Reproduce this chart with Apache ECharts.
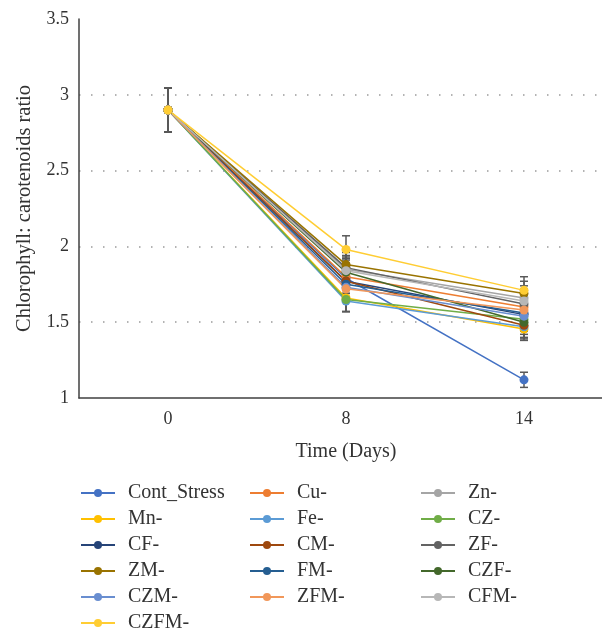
<!DOCTYPE html>
<html>
<head>
<meta charset="utf-8">
<script src="https://cdn.jsdelivr.net/npm/echarts@6/dist/echarts.min.js"></script>
<style>
  html, body { margin: 0; padding: 0; background: #fff; }
  #chart { width: 602px; height: 637px; }
</style>
</head>
<body>
<div id="chart"></div>
<script>
// categories on the x axis
const days = ['0', '8', '14']

// series, in the order of the original legend
const seriesNames = ['Cont_Stress', 'Cu-', 'Zn-', 'Mn-', 'Fe-', 'CZ-', 'CF-', 'CM-',
  'ZF-', 'ZM-', 'FM-', 'CZF-', 'CZM-', 'ZFM-', 'CFM-', 'CZFM-']
const seriesColors = ['#4472C4', '#ED7D31', '#A5A5A5', '#FFC000', '#5B9BD5', '#70AD47',
  '#264478', '#9E480E', '#636363', '#997300', '#255E91', '#43682B', '#698ED0',
  '#F1975A', '#B7B7B7', '#FFCD33']

// ratio values per day, one entry per series
const day0Values = [2.9, 2.9, 2.9, 2.9, 2.9, 2.9, 2.9, 2.9, 2.9, 2.9, 2.9, 2.9, 2.9, 2.9, 2.9, 2.9]
const day8Values = [1.79, 1.80, 1.85, 1.66, 1.64, 1.65, 1.77, 1.77, 1.86, 1.88, 1.75, 1.83, 1.73, 1.72, 1.84, 1.98]
const day14Values = [1.12, 1.60, 1.66, 1.455, 1.47, 1.52, 1.55, 1.48, 1.62, 1.69, 1.56, 1.50, 1.54, 1.58, 1.64, 1.71]

// error bar half-heights per day
const day0Err = [0.145, 0.145, 0.145, 0.145, 0.145, 0.145, 0.145, 0.145, 0.145, 0.145, 0.145, 0.145, 0.145, 0.145, 0.145, 0.145]
const day8Err = [0.08, 0.08, 0.08, 0.09, 0.07, 0.08, 0.08, 0.08, 0.08, 0.08, 0.08, 0.08, 0.08, 0.08, 0.08, 0.09]
const day14Err = [0.05, 0.08, 0.08, 0.075, 0.08, 0.08, 0.08, 0.08, 0.08, 0.08, 0.08, 0.08, 0.08, 0.08, 0.08, 0.09]

const yTicks = [1, 3.5, 0.5] // min, max, interval

const legendCols = [
  ['Cont_Stress', 'Mn-', 'CF-', 'ZM-', 'CZM-', 'CZFM-'],
  ['Cu-', 'Fe-', 'CM-', 'FM-', 'ZFM-'],
  ['Zn-', 'CZ-', 'ZF-', 'CZF-', 'CFM-']
]

const font = '"Liberation Serif", "DejaVu Serif", serif'
const chart = echarts.init(document.getElementById('chart'))

const allValues = [day0Values, day8Values, day14Values]
const allErr = [day0Err, day8Err, day14Err]

// error bar points: [category index, low, high]
const errData = []
seriesNames.forEach((_, s) => {
  allValues.forEach((vals, d) => {
    errData.push([d, vals[s] - allErr[d][s], vals[s] + allErr[d][s]])
  })
})

const lineSeries = seriesNames.map((name, s) => ({
  name,
  type: 'line',
  data: allValues.map((vals) => vals[s]),
  symbol: 'circle',
  symbolSize: 9,
  color: seriesColors[s],
  lineStyle: { width: 1.5 },
  z: 3
}))

const errSeries = {
  type: 'custom',
  data: errData,
  z: 2,
  silent: true,
  renderItem: (params, api) => {
    const x = api.value(0)
    const lo = api.coord([x, api.value(1)])
    const hi = api.coord([x, api.value(2)])
    const cap = 4
    const style = { stroke: '#595959', lineWidth: 1.5 }
    return {
      type: 'group',
      children: [
        { type: 'line', shape: { x1: lo[0], y1: lo[1], x2: hi[0], y2: hi[1] }, style },
        { type: 'line', shape: { x1: hi[0] - cap, y1: hi[1], x2: hi[0] + cap, y2: hi[1] }, style },
        { type: 'line', shape: { x1: lo[0] - cap, y1: lo[1], x2: lo[0] + cap, y2: lo[1] }, style }
      ]
    }
  }
}

const legendLefts = [80, 249, 420]

const option = {
  animation: false,
  textStyle: { fontFamily: font },
  grid: {
    left: 79,
    right: -11,
    top: 19,
    bottom: 239,
    containLabel: false,
    outerBoundsMode: 'none'
  },
  legend: legendCols.map((col, i) => ({
    data: col,
    orient: 'vertical',
    left: legendLefts[i],
    top: 483,
    padding: 0,
    itemWidth: 34,
    itemHeight: 10,
    itemGap: 6,
    textStyle: { fontFamily: font, fontSize: 20, lineHeight: 20, color: '#333', padding: [0, 0, 0, 8] }
  })),
  xAxis: {
    type: 'category',
    data: days,
    boundaryGap: true,
    name: 'Time (Days)',
    nameLocation: 'middle',
    nameGap: 44,
    nameTextStyle: { fontFamily: font, fontSize: 20, color: '#333' },
    axisLine: { lineStyle: { color: '#404040', width: 1.5 } },
    axisTick: { show: false },
    axisLabel: { fontFamily: font, fontSize: 18, color: '#333', margin: 12 },
    splitLine: { show: false }
  },
  yAxis: {
    type: 'value',
    min: yTicks[0],
    max: yTicks[1],
    interval: yTicks[2],
    name: 'Chlorophyll: carotenoids ratio',
    nameLocation: 'middle',
    nameGap: 44,
    nameTextStyle: { fontFamily: font, fontSize: 20.5, color: '#333' },
    axisLine: { show: true, lineStyle: { color: '#404040', width: 1.5 } },
    axisTick: { show: false },
    axisLabel: { fontFamily: font, fontSize: 18, color: '#333', margin: 10 },
    splitLine: {
      show: true,
      showMinLine: false,
      showMaxLine: false,
      lineStyle: { color: '#9a9a9a', width: 1.5, type: [1.5, 10.5] }
    }
  },
  series: [errSeries, ...lineSeries]
}

chart.setOption(option)
</script>
</body>
</html>
